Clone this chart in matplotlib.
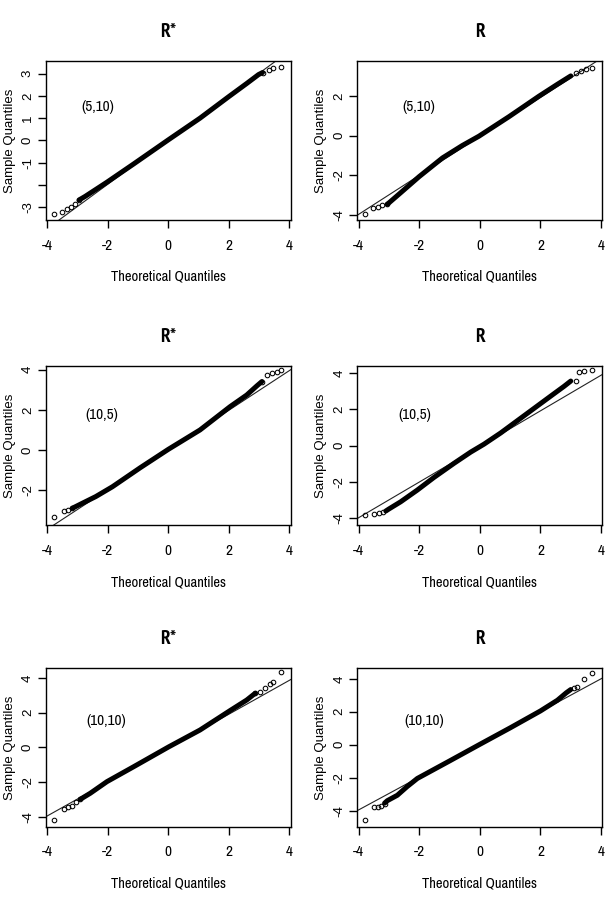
import matplotlib
matplotlib.use('Agg')
import matplotlib.pyplot as plt

# condensed faces for the horizontally squeezed texts
narrow = ['Archivo Narrow', 'Liberation Sans', 'DejaVu Sans']
title_font = ['PT Sans Narrow', 'Liberation Sans', 'DejaVu Sans']
plt.rcParams['font.family'] = ['Liberation Sans', 'DejaVu Sans']

titles = ['R*', 'R', 'R*', 'R', 'R*', 'R']
labels = ['(5,10)', '(5,10)', '(10,5)', '(10,5)', '(10,10)', '(10,10)']
label_pos = [(-2.32, 1.48), (-2.0, 1.42), (-2.19, 1.74), (-2.13, 1.70), (-2.04, 1.54), (-1.84, 1.46)]
ylims = [(-3.58, 3.57), (-4.24, 3.75), (-3.75, 4.2), (-4.41, 4.42), (-4.58, 4.56), (-4.98, 4.64)]
yticks = [[-3, -2, -1, 0, 1, 2, 3], [-4, -2, 0, 2], [-2, 0, 2, 4],
          [-4, -2, 0, 2, 4], [-4, -2, 0, 2, 4], [-4, -2, 0, 2, 4]]
xticks = [-4, -2, 0, 2, 4]

# qqline (intercept, slope) per panel
qq_lines = [(0.02, 1.0), (-0.04, 0.98), (0.0, 0.99), (-0.05, 0.986), (-0.05, 0.98), (0.02, 0.996)]

# panel 1 : R*, (5,10)
p1_tail_x = [-3.77, -3.49, -3.34, -3.21, -3.07, -2.94, 3.11, 3.31, 3.47, 3.71]
p1_tail_y = [-3.33, -3.22, -3.10, -2.98, -2.84, -2.68, 3.05, 3.16, 3.24, 3.30]
p1_core_x = [-2.94, -2.74, -2.02, -1.14, 0.01, 1.05, 1.99, 2.59, 2.98, 3.11]
p1_core_y = [-2.68, -2.52, -1.88, -1.06, 0.03, 1.0, 1.96, 2.56, 2.96, 3.05]

# panel 2 : R, (5,10)
p2_tail_x = [-3.77, -3.51, -3.36, -3.22, -3.05, 3.16, 3.33, 3.49, 3.71]
p2_tail_y = [-3.95, -3.62, -3.57, -3.50, -3.45, 3.16, 3.25, 3.33, 3.42]
p2_core_x = [-3.05, -2.61, -2.0, -1.23, -0.58, -0.03, 0.96, 1.95, 2.56, 3.0]
p2_core_y = [-3.45, -2.87, -2.06, -1.12, -0.50, -0.03, 0.95, 1.98, 2.58, 3.0]

# panel 3 : R*, (10,5)
p3_tail_x = [-3.75, -3.45, -3.29, -3.16, 3.09, 3.25, 3.42, 3.58, 3.73]
p3_tail_y = [-3.34, -3.04, -2.99, -2.90, 3.41, 3.74, 3.85, 3.90, 3.99]
p3_core_x = [-3.16, -2.79, -2.39, -1.84, -0.92, 0.0, 1.05, 2.04, 2.59, 2.92, 3.09]
p3_core_y = [-2.90, -2.62, -2.32, -1.83, -0.88, 0.03, 1.0, 2.16, 2.74, 3.19, 3.41]

# panel 4 : R, (10,5)
p4_tail_x = [-3.77, -3.49, -3.33, -3.18, 3.16, 3.27, 3.44, 3.71]
p4_tail_y = [-3.85, -3.79, -3.72, -3.66, 3.57, 4.09, 4.12, 4.18]
p4_core_x = [-3.10, -3.0, -2.61, -2.06, -1.51, -0.85, -0.30, 0.14, 0.69, 1.24, 1.79, 2.34, 2.78, 3.0]
p4_core_y = [-3.62, -3.51, -3.11, -2.46, -1.76, -0.98, -0.36, 0.08, 0.70, 1.38, 2.06, 2.74, 3.28, 3.57]

# panel 5 : R*, (10,10)
p5_tail_x = [-3.75, -3.45, -3.29, -3.18, -3.03, -2.90, 2.87, 3.03, 3.20, 3.36, 3.47, 3.73]
p5_tail_y = [-4.19, -3.56, -3.46, -3.38, -3.13, -3.0, 3.12, 3.21, 3.40, 3.65, 3.79, 4.33]
p5_core_x = [-2.90, -2.57, -2.02, -1.14, 0.01, 1.05, 2.04, 2.59, 2.87]
p5_core_y = [-3.0, -2.65, -1.98, -1.12, 0.02, 1.0, 2.12, 2.73, 3.12]

# panel 6 : R, (10,10)
p6_tail_x = [-3.77, -3.49, -3.36, -3.25, -3.14, 3.11, 3.22, 3.44, 3.71]
p6_tail_y = [-4.55, -3.80, -3.76, -3.70, -3.60, 3.45, 3.49, 3.96, 4.36]
p6_core_x = [-3.14, -3.05, -2.72, -2.40, -2.06, -1.0, 0.0, 1.0, 2.0, 2.56, 2.85, 3.0]
p6_core_y = [-3.55, -3.40, -3.07, -2.55, -2.05, -0.99, 0.02, 1.02, 2.05, 2.70, 3.15, 3.35]

tails = [(p1_tail_x, p1_tail_y), (p2_tail_x, p2_tail_y), (p3_tail_x, p3_tail_y),
         (p4_tail_x, p4_tail_y), (p5_tail_x, p5_tail_y), (p6_tail_x, p6_tail_y)]
cores = [(p1_core_x, p1_core_y), (p2_core_x, p2_core_y), (p3_core_x, p3_core_y),
         (p4_core_x, p4_core_y), (p5_core_x, p5_core_y), (p6_core_x, p6_core_y)]

W, H = 616, 901
fig = plt.figure(figsize=(W / 100, H / 100), dpi=100)

# axes boxes in pixels
lefts = [45.7, 357.3]
tops = [61, 365.7, 668.3]
bottoms = [220, 525.3, 826.7]
bw = 245

for k in range(6):
    r, c = divmod(k, 2)
    l, t, b = lefts[c], tops[r], bottoms[r]
    ax = fig.add_axes([l / W, 1 - b / H, bw / W, (b - t) / H])
    ax.set_xlim(-4.04, 4.04)
    ax.set_ylim(*ylims[k])

    a, s = qq_lines[k]
    ax.axline((0, a), slope=s, color='#222222', lw=0.8)
    cx, cy = cores[k]
    ax.plot(cx, cy, color='black', lw=3.6, solid_capstyle='round', solid_joinstyle='round')
    tx, ty = tails[k]
    ax.plot(tx, ty, ls='none', marker='o', ms=3.3, mfc='none', mec='black', mew=0.75)

    ax.set_xticks(xticks)
    ax.set_xticklabels([str(v) for v in xticks], family=narrow, fontsize=11)
    ax.set_yticks(yticks[k])
    ylab = ['' if (k == 0 and v == -2) else str(v) for v in yticks[k]]
    ax.set_yticklabels(ylab, fontsize=9.5, rotation=90, va='center')
    ax.tick_params(axis='x', direction='out', length=5.5, width=1.0, pad=8)
    ax.tick_params(axis='y', direction='out', length=5.5, width=1.0, pad=3)
    for sp in ax.spines.values():
        sp.set_linewidth(1.0)

    ax.set_xlabel('Theoretical Quantiles', family=narrow, fontsize=10.5, va='center')
    ax.xaxis.set_label_coords(0.5, -57 / (b - t))
    ax.set_ylabel('Sample Quantiles', fontsize=9.5, va='center')
    ax.yaxis.set_label_coords(-36 / bw, 0.5)

    ax.text(0.5, 1 + 29 / (b - t), titles[k], transform=ax.transAxes, ha='center', va='center',
            family=title_font, fontsize=14, fontweight='bold')
    lx, ly = label_pos[k]
    ax.text(lx, ly, labels[k], ha='center', va='center', family=narrow, fontsize=11)

fig.savefig('out.png', dpi=100)
